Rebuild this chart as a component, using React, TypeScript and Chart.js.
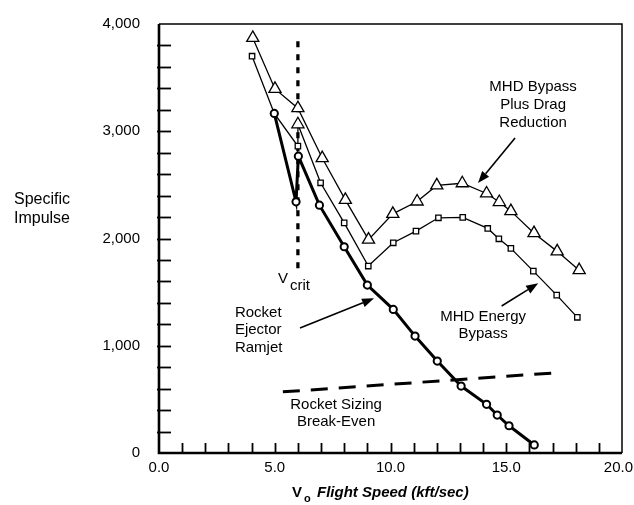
import React, { useEffect, useRef } from 'react';
import { Chart, registerables } from 'chart.js';

Chart.register(...registerables);

// MHD Bypass Plus Drag Reduction (triangles)
const dragX = [4.05, 5.01, 6.0, 7.05, 8.05, 9.05, 10.1, 11.15, 12.0, 13.1, 14.15, 14.7, 15.2, 16.2, 17.2, 18.15];
const dragY = [3870, 3395, 3215, 2750, 2360, 1990, 2230, 2345, 2495, 2515, 2420, 2340, 2255, 2050, 1880, 1705];

// MHD Energy Bypass (squares)
const energyX = [4.02, 4.98, 6.0, 6.0, 6.98, 8.0, 9.04, 10.12, 11.1, 12.07, 13.12, 14.2, 14.68, 15.2, 16.17, 17.18, 18.07];
const energyY = [3700, 3166, 2861, 3065, 2519, 2146, 1743, 1960, 2069, 2193, 2197, 2094, 1997, 1908, 1696, 1472, 1265];
const energyStyle = ['rect', 'circle', 'rect', 'triangle', 'rect', 'rect', 'rect', 'rect', 'rect', 'rect', 'rect', 'rect', 'rect', 'rect', 'rect', 'rect', 'rect'];

// Rocket Ejector Ramjet (circles)
const rerX = [4.98, 5.92, 6.02, 6.93, 8.0, 9.0, 10.12, 11.06, 12.02, 13.05, 14.15, 14.61, 15.12, 16.21];
const rerY = [3166, 2342, 2768, 2311, 1923, 1566, 1339, 1090, 857, 624, 454, 354, 254, 75];

// Rocket Sizing Break-Even (dashed)
const breakX = [5.35, 17.3];
const breakY = [570, 750];

// V crit (dotted vertical)
const vcritX = [6.0, 6.0];
const vcritY = [3840, 1660];

const xTickLabels = [0, 5, 10, 15, 20];
const yTickLabels = [0, 1000, 2000, 3000, 4000];

const FONT = "'Liberation Sans', Arial, sans-serif";

const pts = (xs: number[], ys: number[]) => xs.map((x, i) => ({ x, y: ys[i] }));

function arrow(ctx: CanvasRenderingContext2D, x1: number, y1: number, x2: number, y2: number) {
  const ang = Math.atan2(y2 - y1, x2 - x1);
  const len = 12;
  const w = 4.5;
  const bx = x2 - Math.cos(ang) * len;
  const by = y2 - Math.sin(ang) * len;
  ctx.beginPath();
  ctx.lineWidth = 1.6;
  ctx.moveTo(x1, y1);
  ctx.lineTo(bx, by);
  ctx.stroke();
  ctx.beginPath();
  ctx.moveTo(x2, y2);
  ctx.lineTo(bx - Math.sin(ang) * w, by + Math.cos(ang) * w);
  ctx.lineTo(bx + Math.sin(ang) * w, by - Math.cos(ang) * w);
  ctx.closePath();
  ctx.fill();
}

const decorPlugin = {
  id: 'decor',
  afterDatasetsDraw(chart: any) {
    const ctx: CanvasRenderingContext2D = chart.ctx;
    const xs = chart.scales.x;
    const ys = chart.scales.y;
    const ca = chart.chartArea;
    const X = (v: number) => xs.getPixelForValue(v);
    const Y = (v: number) => ys.getPixelForValue(v);
    ctx.save();
    ctx.strokeStyle = '#000';
    ctx.fillStyle = '#000';
    ctx.setLineDash([]);
    // frame
    ctx.lineWidth = 1.5;
    ctx.beginPath();
    ctx.moveTo(ca.left, ca.top);
    ctx.lineTo(ca.right, ca.top);
    ctx.lineTo(ca.right, ca.bottom);
    ctx.stroke();
    ctx.lineWidth = 2.6;
    ctx.beginPath();
    ctx.moveTo(ca.left, ca.top);
    ctx.lineTo(ca.left, ca.bottom);
    ctx.lineTo(ca.right, ca.bottom);
    ctx.stroke();
    // inward ticks
    ctx.lineWidth = 1.8;
    for (let v = 200; v < 4000; v += 200) {
      const y = Math.round(Y(v)) + 0.5;
      ctx.beginPath();
      ctx.moveTo(ca.left - 2, y);
      ctx.lineTo(ca.left + 12, y);
      ctx.stroke();
    }
    for (let v = 1; v < 20; v += 1) {
      const x = Math.round(X(v)) + 0.5;
      ctx.beginPath();
      ctx.moveTo(x, ca.bottom);
      ctx.lineTo(x, ca.bottom - 10);
      ctx.stroke();
    }
    // x tick labels
    ctx.font = `15px ${FONT}`;
    ctx.textBaseline = 'middle';
    ctx.textAlign = 'center';
    xTickLabels.forEach((v) => {
      const s = v.toFixed(1);
      const w = ctx.measureText(s).width;
      const x = Math.min(X(v), chart.width - w / 2 - 1);
      ctx.fillText(s, x, ca.bottom + 15);
    });

    // texts
    ctx.font = `16px ${FONT}`;
    ctx.fillText('Specific', 42, 200);
    ctx.fillText('Impulse', 42, 219);

    ctx.font = `15px ${FONT}`;
    const lines = (arr: string[], x: number, y: number, gap: number) => {
      arr.forEach((s, i) => ctx.fillText(s, x, y + i * gap));
    };
    lines(['MHD Bypass', 'Plus Drag', 'Reduction'], X(16.16), Y(3413), 18);
    lines(['MHD Energy', 'Bypass'], X(14.0), Y(1268), 17);
    lines(['Rocket Sizing', 'Break-Even'], X(7.65), Y(448), 17);
    ctx.textAlign = 'left';
    lines(['Rocket', 'Ejector', 'Ramjet'], X(3.28), Y(1308), 17.5);
    ctx.fillText('V', X(5.14), Y(1622));
    ctx.fillText('crit', X(5.66), Y(1622) + 7);

    // arrows
    arrow(ctx, X(15.38), Y(2937), X(13.78), Y(2517));
    arrow(ctx, X(14.8), Y(1371), X(16.38), Y(1582));
    arrow(ctx, X(6.09), Y(1165), X(9.29), Y(1442));

    // x axis title
    ctx.textBaseline = 'alphabetic';
    ctx.textAlign = 'left';
    ctx.font = `bold 15px ${FONT}`;
    ctx.fillText('V', 292, 497);
    ctx.font = `bold 11px ${FONT}`;
    ctx.fillText('o', 304, 502);
    ctx.font = `italic bold 15px ${FONT}`;
    ctx.fillText('Flight Speed (kft/sec)', 317, 497);
    ctx.restore();
  },
};

export default function App() {
  const ref = useRef<HTMLCanvasElement | null>(null);
  useEffect(() => {
    if (!ref.current) return;
    const chart = new Chart(ref.current, {
      type: 'scatter',
      data: {
        datasets: [
          {
            label: 'Rocket Ejector Ramjet',
            data: pts(rerX, rerY),
            showLine: true,
            borderColor: '#000',
            borderWidth: 3,
            pointStyle: 'circle',
            pointRadius: 3.6,
            pointBorderWidth: 2,
            pointBackgroundColor: '#fff',
            pointBorderColor: '#000',
          },
          {
            label: 'MHD Energy Bypass',
            data: pts(energyX, energyY),
            showLine: true,
            borderColor: '#000',
            borderWidth: 1.3,
            pointStyle: energyStyle as any,
            pointRadius: energyStyle.map((s) => (s === 'triangle' ? 7 : s === 'circle' ? 0 : 3.8)),
            pointBorderWidth: 1.3,
            pointBackgroundColor: '#fff',
            pointBorderColor: '#000',
          },
          {
            label: 'MHD Bypass Plus Drag Reduction',
            data: pts(dragX, dragY),
            showLine: true,
            borderColor: '#000',
            borderWidth: 1.3,
            pointStyle: 'triangle',
            pointRadius: 7,
            pointBorderWidth: 1.3,
            pointBackgroundColor: '#fff',
            pointBorderColor: '#000',
          },
          {
            label: 'Rocket Sizing Break-Even',
            data: pts(breakX, breakY),
            showLine: true,
            borderColor: '#000',
            borderWidth: 3,
            borderDash: [17, 11],
            pointRadius: 0,
          },
          {
            label: 'V crit',
            data: pts(vcritX, vcritY),
            showLine: true,
            borderColor: '#000',
            borderWidth: 3.3,
            borderDash: [6, 7],
            pointRadius: 0,
          },
        ],
      },
      options: {
        responsive: false,
        animation: false,
        events: [],
        layout: { padding: { top: 24, right: 12, left: 0, bottom: 0 } },
        plugins: { legend: { display: false }, tooltip: { enabled: false } },
        scales: {
          x: {
            type: 'linear',
            min: 0,
            max: 20,
            afterFit: (s: any) => { s.height = 52; s.paddingLeft = 0; s.paddingRight = 0; },
            afterBuildTicks: (s: any) => { s.ticks = xTickLabels.map((v) => ({ value: v })); },
            ticks: { display: false },
            grid: { display: false, drawTicks: false },
            border: { display: false },
          },
          y: {
            type: 'linear',
            min: 0,
            max: 4000,
            afterFit: (s: any) => { s.width = 159; s.paddingTop = 0; s.paddingBottom = 0; },
            afterBuildTicks: (s: any) => { s.ticks = yTickLabels.map((v) => ({ value: v })); },
            ticks: {
              callback: (v: any) => Number(v).toLocaleString('en-US'),
              padding: 19,
              color: '#000',
              font: { family: FONT, size: 15 },
            },
            grid: { display: false, drawTicks: false },
            border: { display: false },
          },
        },
      },
      plugins: [decorPlugin],
    });
    return () => chart.destroy();
  }, []);
  return (
    <div style={{ position: 'fixed', left: 0, top: 0, width: 634, height: 505, background: '#fff' }}>
      <canvas ref={ref} width={634} height={505} style={{ display: 'block' }} />
    </div>
  );
}
